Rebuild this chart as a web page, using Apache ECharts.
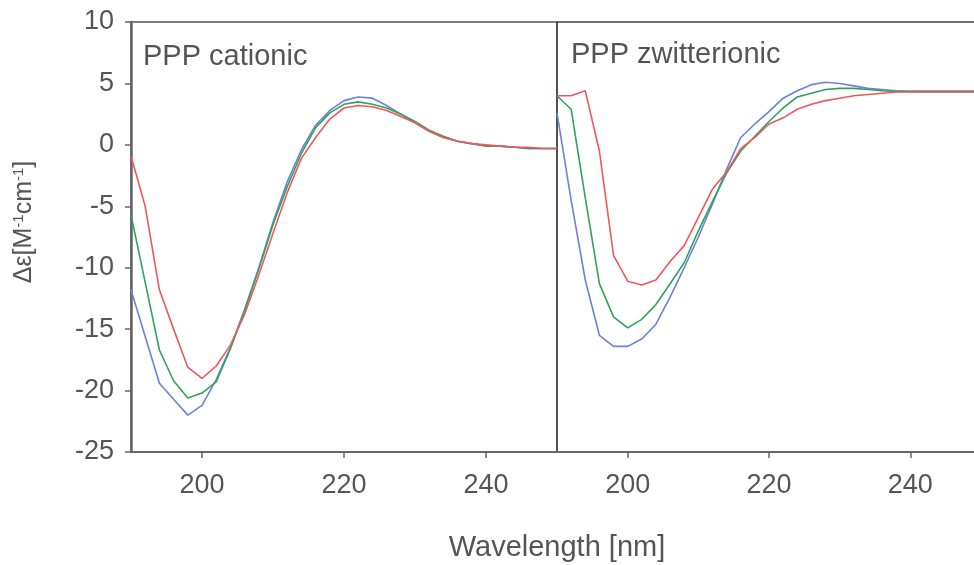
<!DOCTYPE html>
<html>
<head>
<meta charset="utf-8">
<script src="https://cdn.jsdelivr.net/npm/echarts@6/dist/echarts.min.js"></script>
<style>
  html, body { margin: 0; padding: 0; background: #fff; }
  #chart { width: 974px; height: 565px; }
</style>
</head>
<body>
<div id="chart"></div>
<script>
var myChart = echarts.init(document.getElementById('chart'));

// wavelengths (nm), 2 nm steps
var wavelength = [190, 192, 194, 196, 198, 200, 202, 204, 206, 208, 210, 212, 214, 216, 218, 220,
                  222, 224, 226, 228, 230, 232, 234, 236, 238, 240, 242, 244, 246, 248, 250];

// PPP cationic
var cationicBlue  = [-11.8, -15.6, -19.4, -20.7, -22.0, -21.2, -19.1, -16.5, -13.4, -10.0, -6.3, -3.0, -0.4, 1.6, 2.8, 3.6,
                     3.9, 3.8, 3.2, 2.5, 1.8, 1.1, 0.6, 0.3, 0.1, -0.1, -0.1, -0.2, -0.3, -0.3, -0.3];
var cationicGreen = [-5.7, -11.2, -16.7, -19.2, -20.6, -20.2, -19.3, -16.6, -13.5, -10.1, -6.5, -3.4, -0.7, 1.4, 2.6, 3.3,
                     3.5, 3.3, 3.0, 2.5, 1.9, 1.2, 0.7, 0.3, 0.1, -0.1, -0.1, -0.2, -0.3, -0.3, -0.3];
var cationicRed   = [-0.9, -5.0, -11.8, -15.0, -18.1, -19.0, -18.0, -16.3, -13.8, -10.6, -7.2, -3.9, -1.1, 0.6, 2.1, 3.0,
                     3.2, 3.1, 2.8, 2.3, 1.8, 1.1, 0.6, 0.3, 0.1, 0.0, -0.1, -0.2, -0.2, -0.3, -0.3];

// PPP zwitterionic
var zwitterBlue  = [2.6, -4.5, -11.0, -15.5, -16.4, -16.4, -15.8, -14.6, -12.4, -10.0, -7.5, -4.8, -2.0, 0.6, 1.7, 2.7,
                    3.8, 4.4, 4.9, 5.1, 5.0, 4.8, 4.6, 4.5, 4.4, 4.35, 4.35, 4.35, 4.35, 4.35, 4.35];
var zwitterGreen = [4.0, 2.9, -4.3, -11.3, -14.0, -14.9, -14.2, -13.0, -11.3, -9.6, -7.0, -4.6, -2.3, -0.5, 0.7, 1.9,
                    3.0, 3.9, 4.2, 4.5, 4.6, 4.6, 4.5, 4.4, 4.35, 4.35, 4.35, 4.35, 4.35, 4.35, 4.35];
var zwitterRed   = [4.0, 4.0, 4.4, -0.5, -9.0, -11.1, -11.4, -11.0, -9.5, -8.2, -5.9, -3.6, -2.2, -0.3, 0.6, 1.7,
                    2.2, 2.9, 3.3, 3.6, 3.8, 4.0, 4.1, 4.2, 4.3, 4.3, 4.3, 4.3, 4.3, 4.3, 4.3];

var xTicks = [200, 220, 240];

function pairs(vals) {
    return wavelength.map(function (w, i) { return [w, vals[i]]; });
}

var textColor = '#555';
var axisColor = '#666';
var fontFam = 'Liberation Sans, Arial, sans-serif';

function xAxisFor(idx) {
    return {
        type: 'value', gridIndex: idx, min: 190, max: 250,
        axisLine: { show: true, onZero: false, lineStyle: { color: axisColor, width: 2 } },
        axisTick: { show: true, inside: false, length: 6, customValues: xTicks, lineStyle: { color: axisColor, width: 1.5 } },
        axisLabel: { customValues: xTicks, color: textColor, fontSize: 27, fontFamily: fontFam, margin: 20 },
        splitLine: { show: false }
    };
}

function line(name, idx, vals, color) {
    return {
        name: name, type: 'line', xAxisIndex: idx, yAxisIndex: idx,
        data: pairs(vals), showSymbol: false, smooth: false,
        lineStyle: { color: color, width: 1.6 }, itemStyle: { color: color },
        animation: false
    };
}

var blue = '#6f80d8', green = '#2ea35e', red = '#f2575c';

option = {
    backgroundColor: '#fff',
    textStyle: { fontFamily: fontFam },
    grid: [
        { left: 131, top: 22, width: 426, height: 430, outerBoundsMode: 'none', containLabel: false,
          show: true, borderColor: '#555', borderWidth: 1.5, backgroundColor: 'transparent' },
        { left: 557, top: 22, width: 424, height: 430, outerBoundsMode: 'none', containLabel: false,
          show: true, borderColor: '#444', borderWidth: 1.5, backgroundColor: 'transparent' }
    ],
    xAxis: [xAxisFor(0), xAxisFor(1)],
    yAxis: [
        {
            type: 'value', gridIndex: 0, min: -25, max: 10, interval: 5,
            axisLine: { show: true, onZero: false, lineStyle: { color: axisColor, width: 2.5 } },
            axisTick: { show: true, inside: false, length: 6, lineStyle: { color: axisColor, width: 1.5 } },
            axisLabel: { color: textColor, fontSize: 27, fontFamily: fontFam, margin: 17 },
            splitLine: { show: false }
        },
        {
            type: 'value', gridIndex: 1, min: -25, max: 10, interval: 5,
            axisLine: { show: false }, axisTick: { show: false }, axisLabel: { show: false },
            splitLine: { show: false }
        }
    ],
    graphic: [
        { type: 'text', left: 143, top: 42, silent: true,
          style: { text: 'PPP cationic', fill: textColor, font: '29px ' + fontFam } },
        { type: 'text', left: 571, top: 40, silent: true,
          style: { text: 'PPP zwitterionic', fill: textColor, font: '29px ' + fontFam } },
        { type: 'text', x: 557, y: 548, silent: true,
          style: { text: 'Wavelength [nm]', fill: textColor, font: '29px ' + fontFam, align: 'center', verticalAlign: 'middle' } },
        { type: 'text', x: 24, y: 222, rotation: Math.PI / 2, silent: true,
          style: {
              text: '{a|Δε[M}{s|-1}{a|cm}{s|-1}{a|]}',
              align: 'center', verticalAlign: 'middle', fill: textColor,
              rich: {
                  a: { fontSize: 25, fontFamily: fontFam, fill: textColor, verticalAlign: 'bottom' },
                  s: { fontSize: 15, fontFamily: fontFam, fill: textColor, verticalAlign: 'top', padding: [0, 0, 10, 0] }
              }
          } }
    ],
    series: [
        line('cationic blue', 0, cationicBlue, blue),
        line('cationic green', 0, cationicGreen, green),
        line('cationic red', 0, cationicRed, red),
        line('zwitterionic blue', 1, zwitterBlue, blue),
        line('zwitterionic green', 1, zwitterGreen, green),
        line('zwitterionic red', 1, zwitterRed, red)
    ]
};
myChart.setOption(option);
</script>
</body>
</html>
